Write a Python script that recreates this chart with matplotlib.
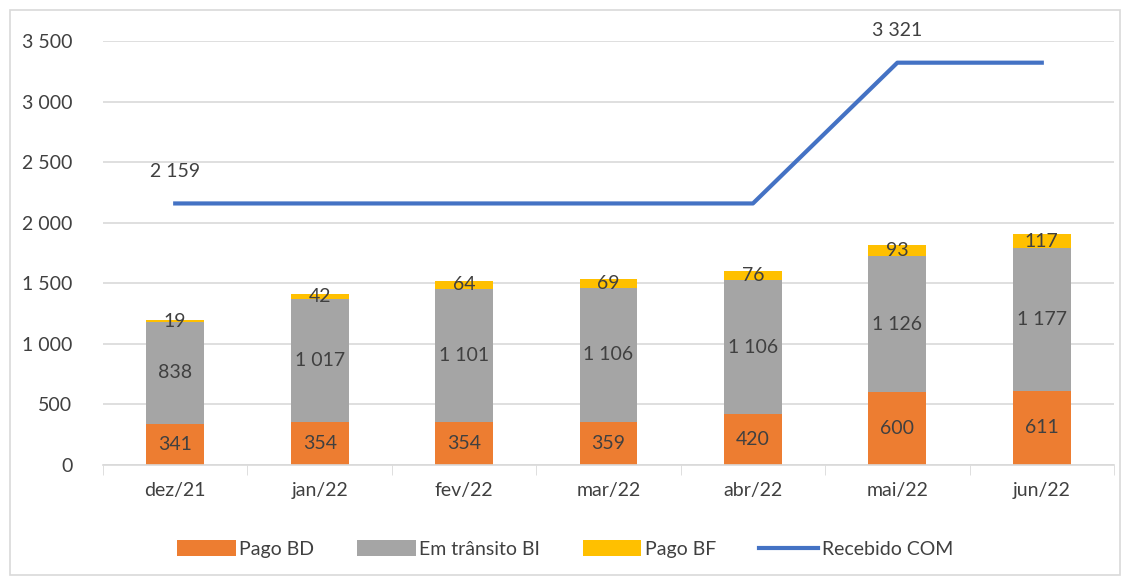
import numpy as np
import matplotlib.pyplot as plt
from matplotlib.patches import Rectangle

# Daten
meses = ['dez/21', 'jan/22', 'fev/22', 'mar/22', 'abr/22', 'mai/22', 'jun/22']
pago_bd = [341, 354, 354, 359, 420, 600, 611]
em_transito_bi = [838, 1017, 1101, 1106, 1106, 1126, 1177]
pago_bf = [19, 42, 64, 69, 76, 93, 117]
recebido_com = [2159, 2159, 2159, 2159, 2159, 3321, 3321]
line_label_idx = [0, 5]

c_bd = '#ED7D31'
c_bi = '#A5A5A5'
c_bf = '#FFC000'
c_com = '#4472C4'
txt = '#404040'
fs = 14

plt.rcParams['font.family'] = ['Lato', 'DejaVu Sans']

def fmt(v):
    return f'{v:,}'.replace(',', ' ')

fig = plt.figure(figsize=(11.3, 5.8), dpi=100)
ax = fig.add_axes([103/1130, 1-465/580, (1114-103)/1130, (465-41)/580])

x = np.arange(len(meses))
w = 0.4
bd = np.array(pago_bd)
bi = np.array(em_transito_bi)
bf = np.array(pago_bf)

h1 = ax.bar(x, bd, w, color=c_bd, label='Pago BD', zorder=2)
h2 = ax.bar(x, bi, w, bottom=bd, color=c_bi, label='Em trânsito BI', zorder=2)
h3 = ax.bar(x, bf, w, bottom=bd+bi, color=c_bf, label='Pago BF', zorder=2)
h4, = ax.plot(x, recebido_com, color=c_com, lw=3, label='Recebido COM', zorder=3)

for i in range(len(x)):
    ax.text(x[i], bd[i]/2, fmt(bd[i]), ha='center', va='center', fontsize=fs, color=txt, zorder=4)
    ax.text(x[i], bd[i]+bi[i]/2, fmt(bi[i]), ha='center', va='center', fontsize=fs, color=txt, zorder=4)
    ax.text(x[i], bd[i]+bi[i]+bf[i]/2, fmt(bf[i]), ha='center', va='center', fontsize=fs, color=txt, zorder=4)
for i in line_label_idx:
    ax.annotate(fmt(recebido_com[i]), (x[i], recebido_com[i]), xytext=(0, 17),
                textcoords='offset points', ha='center', va='bottom', fontsize=fs, color=txt)

ax.set_xlim(-0.5, len(meses)-0.5)
ax.set_ylim(0, 3500)
ax.set_yticks(np.arange(0, 3501, 500))
ax.set_yticklabels([fmt(v) for v in range(0, 3501, 500)])
ax.set_xticks(x)
ax.set_xticklabels(meses)
ax.set_xticks(np.arange(-0.5, len(meses), 1), minor=True)
ax.tick_params(axis='x', which='major', length=0, pad=12, labelsize=fs, labelcolor=txt)
ax.tick_params(axis='x', which='minor', length=7, color='#D9D9D9')
ax.tick_params(axis='y', length=0, pad=22, labelsize=fs, labelcolor=txt)
ax.grid(axis='y', color='#D9D9D9', lw=1.2, zorder=0)
ax.set_axisbelow(True)
for s in ['top', 'right', 'left']:
    ax.spines[s].set_visible(False)
ax.spines['bottom'].set_color('#D9D9D9')
ax.spines['bottom'].set_linewidth(1.2)

leg = fig.legend(handles=[h1, h2, h3, h4], loc='center', bbox_to_anchor=(0.5, 1-549/580), ncol=4,
                 frameon=False, fontsize=fs, handlelength=3.0, handleheight=0.9,
                 columnspacing=2.2, handletextpad=0.2)
for t in leg.get_texts():
    t.set_color(txt)

fig.patches.append(Rectangle((10/1130, 5/580), 1110/1130, 565/580, transform=fig.transFigure,
                             fill=False, edgecolor='#D9D9D9', lw=1.2))

fig.savefig('out.png', dpi=100)
